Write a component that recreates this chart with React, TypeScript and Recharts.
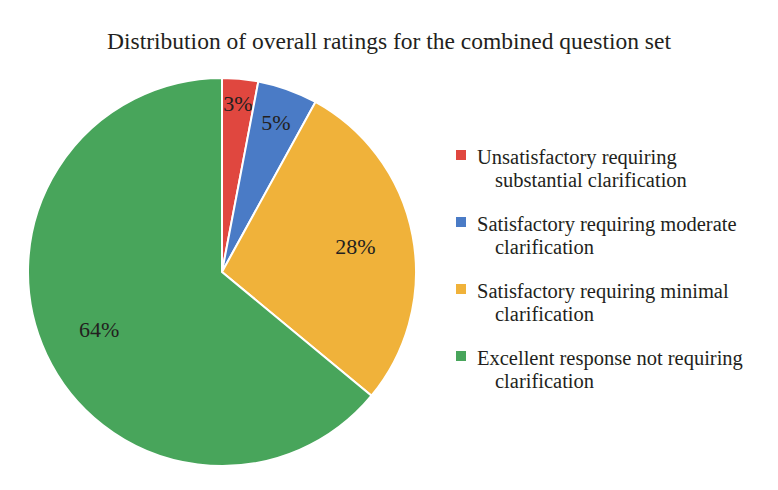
import { Cell, Legend, Pie, PieChart } from 'recharts';

const categories = [
  'Unsatisfactory requiring substantial clarification',
  'Satisfactory requiring moderate clarification',
  'Satisfactory requiring minimal clarification',
  'Excellent response not requiring clarification',
];
const legendLines = [
  ['Unsatisfactory requiring', 'substantial clarification'],
  ['Satisfactory requiring moderate', 'clarification'],
  ['Satisfactory requiring minimal', 'clarification'],
  ['Excellent response not requiring', 'clarification'],
];
const shares = [3, 5, 28, 64];
const colors = ['#e0473f', '#4a7bc6', '#f0b23a', '#48a55b'];

const data = categories.map((name, i) => ({ name, value: shares[i] }));

const FONT = '"Liberation Serif", "Times New Roman", serif';
const RADIAN = Math.PI / 180;

const renderLabel = (props: any) => {
  const { cx, cy, midAngle, outerRadius, percent, value } = props;
  const r = outerRadius * (percent < 0.04 ? 0.87 : percent < 0.1 ? 0.82 : 0.7);
  const x = cx + r * Math.cos(-midAngle * RADIAN);
  const y = cy + r * Math.sin(-midAngle * RADIAN);
  return (
    <text
      x={x}
      y={y}
      textAnchor="middle"
      dominantBaseline="central"
      fill="#231f20"
      fontSize={22}
      fontFamily={FONT}
    >
      {`${value}%`}
    </text>
  );
};

const renderLegend = () => (
  <div style={{ fontFamily: FONT, fontSize: 20.5, color: '#231f20', lineHeight: '23px' }}>
    {legendLines.map((lines, i) => (
      <div key={i} style={{ position: 'relative', marginBottom: 21, paddingLeft: 21 }}>
        <span
          style={{
            position: 'absolute',
            left: 0,
            top: 4,
            width: 10,
            height: 10,
            background: colors[i],
          }}
        />
        <div style={{ whiteSpace: 'nowrap' }}>{lines[0]}</div>
        <div style={{ paddingLeft: 18, whiteSpace: 'nowrap' }}>{lines[1]}</div>
      </div>
    ))}
  </div>
);

export default function App() {
  return (
    <div
      style={{
        position: 'absolute',
        left: 0,
        top: 0,
        width: 778,
        height: 490,
        background: '#fff',
      }}
    >
      <div
        style={{
          position: 'absolute',
          top: 28,
          left: 0,
          width: 778,
          textAlign: 'center',
          fontFamily: FONT,
          fontSize: 23.5,
          color: '#231f20',
          zIndex: 1,
        }}
      >
        Distribution of overall ratings for the combined question set
      </div>
      <PieChart width={778} height={490} margin={{ top: 0, right: 0, bottom: 0, left: 0 }}>
        <Pie
          data={data}
          dataKey="value"
          nameKey="name"
          cx={222}
          cy={272}
          outerRadius={194}
          startAngle={90}
          endAngle={-270}
          stroke="#fff"
          strokeWidth={2}
          label={renderLabel}
          labelLine={false}
          isAnimationActive={false}
        >
          {data.map((d, i) => (
            <Cell key={d.name} fill={colors[i]} />
          ))}
        </Pie>
        <Legend
          content={renderLegend}
          wrapperStyle={{ position: 'absolute', left: 456, top: 146, width: 322 }}
        />
      </PieChart>
    </div>
  );
}
